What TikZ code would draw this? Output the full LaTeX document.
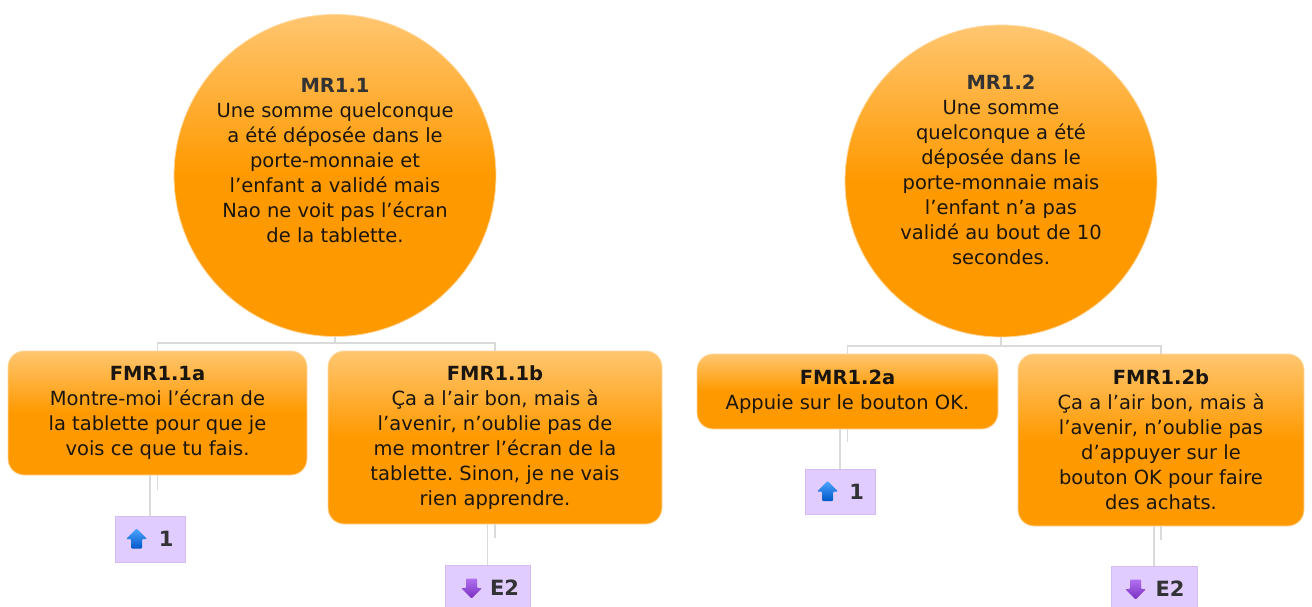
\documentclass[tikz,border=0pt]{standalone}
\usepackage{fontspec}
\setmainfont{DejaVu Sans}
\frenchspacing
\definecolor{org}{HTML}{FF9900}
\definecolor{orgl}{HTML}{FFC670}
\definecolor{orgb}{HTML}{FFD9A0}
\definecolor{conn}{HTML}{DADADA}
\definecolor{lav}{HTML}{E1CCFF}
\definecolor{lavb}{HTML}{D4BDF5}
\definecolor{txt}{HTML}{1A160F}
\definecolor{ttl}{HTML}{333333}
\definecolor{upt}{HTML}{4DA6FF}
\definecolor{upb}{HTML}{0057C8}
\definecolor{dnt}{HTML}{B070F0}
\definecolor{dnb}{HTML}{7A2FC0}
\begin{document}
\begin{tikzpicture}[x=1pt,y=-1pt,
  bubble/.style={circle, inner sep=0pt, top color=orgl, bottom color=org, middle color=org, draw=orgb, line width=0.8pt},
  bubtext/.style={align=center, text=txt, inner sep=0pt, font=\fontsize{19.5}{25}\selectfont},
  fmr/.style={rounded corners=16pt, inner sep=0pt, top color=orgl, bottom color=org, middle color=org, draw=orgb, line width=0.8pt, align=center, text=txt, font=\fontsize{19.5}{25}\selectfont},
  conn/.style={draw=conn, line width=1.3pt},
  lbl/.style={fill=lav, draw=lavb, line width=0.8pt, inner sep=0pt, minimum height=46pt},
  lbltext/.style={inner sep=0pt, text=ttl, font=\bfseries\fontsize{21}{24}\selectfont},
  uparr/.pic={\shade[top color=upt, bottom color=upb, rounded corners=1pt] (0,-10.5) -- (10.5,0) -- (5.5,0) -- (5.5,9.5) -- (-5.5,9.5) -- (-5.5,0) -- (-10.5,0) -- cycle;},
  dnarr/.pic={\shade[top color=dnt, bottom color=dnb, rounded corners=1pt] (0,10.5) -- (10.5,0) -- (5.5,0) -- (5.5,-9.5) -- (-5.5,-9.5) -- (-5.5,0) -- (-10.5,0) -- cycle;}
]
\useasboundingbox (0,0) rectangle (1312,606);
\clip (0,0) rectangle (1312,606);
\fill[white] (0,0) rectangle (1312,606);

% circles
\node[bubble, minimum size=322pt] (mr11) at (335,175.5) {};
\node[bubtext] (mr11t) at (335,161) {\textbf{\color{ttl}MR1.1}\\Une somme quelconque\\a été déposée dans le\\porte-monnaie et\\l’enfant a validé mais\\Nao ne voit pas l’écran\\de la tablette.};
\node[bubble, minimum size=312pt] (mr12) at (1001,181) {};
\node[bubtext] (mr12t) at (1001,170) {\textbf{\color{ttl}MR1.2}\\Une somme\\quelconque a été\\déposée dans le\\porte-monnaie mais\\l’enfant n’a pas\\validé au bout de 10\\secondes.};

% boxes
\node[fmr, minimum width=299pt, minimum height=124pt] (fmr11a) at (157.5,413) {\textbf{FMR1.1a}\\Montre-moi l’écran de\\la tablette pour que je\\vois ce que tu fais.};
\node[fmr, minimum width=334pt, minimum height=173pt] (fmr11b) at (495,437.5) {\textbf{FMR1.1b}\\Ça a l’air bon, mais à\\l’avenir, n’oublie pas de\\me montrer l’écran de la\\tablette. Sinon, je ne vais\\rien apprendre.};
\node[fmr, minimum width=301pt, minimum height=75pt] (fmr12a) at (847.5,391.5) {\textbf{FMR1.2a}\\Appuie sur le bouton OK.};
\node[fmr, minimum width=286pt, minimum height=172pt] (fmr12b) at (1161,440) {\textbf{FMR1.2b}\\Ça a l’air bon, mais à\\l’avenir, n’oublie pas\\d’appuyer sur le\\bouton OK pour faire\\des achats.};

% labels
\node[lbl, minimum width=70pt] (l1) at (150,539) {};
\pic at ([xshift=22pt]l1.west) {uparr};
\node[lbltext] (l1t) at ([xshift=51.5pt]l1.west) {1};
\node[lbl, minimum width=85pt] (l2) at (487.5,588) {};
\pic at ([xshift=27pt]l2.west) {dnarr};
\node[lbltext] (l2t) at ([xshift=60pt]l2.west) {E2};
\node[lbl, minimum width=70pt, minimum height=45pt] (l3) at (840,491.5) {};
\pic at ([xshift=23pt]l3.west) {uparr};
\node[lbltext] (l3t) at ([xshift=52pt]l3.west) {1};
\node[lbl, minimum width=86pt] (l4) at (1154,589) {};
\pic at ([xshift=25pt]l4.west) {dnarr};
\node[lbltext] (l4t) at ([xshift=59.5pt]l4.west) {E2};

% connectors
\coordinate (j1) at (335,343);
\coordinate (j2) at (1001,346);
\draw[conn] (mr11.south) -- (j1) -| (fmr11a.north);
\draw[conn] (j1) -| (fmr11b.north);
\draw[conn] (mr12.south) -- (j2) -| (fmr12a.north);
\draw[conn] (j2) -| (fmr12b.north);

\coordinate (s1) at (157.5,490);
\coordinate (s2) at (495,538);
\coordinate (s3) at (847.5,442);
\coordinate (s4) at (1161,540);
\draw[conn] (fmr11a.south) -- (s1);
\draw[conn] (fmr11b.south) -- (s2);
\draw[conn] (fmr12a.south) -- (s3);
\draw[conn] (fmr12b.south) -- (s4);
\draw[conn] (fmr11a.south -| l1.north) -- (l1.north);
\draw[conn] (fmr11b.south -| l2.north) -- (l2.north);
\draw[conn] (fmr12a.south -| l3.north) -- (l3.north);
\draw[conn] (fmr12b.south -| l4.north) -- (l4.north);
\end{tikzpicture}
\end{document}
